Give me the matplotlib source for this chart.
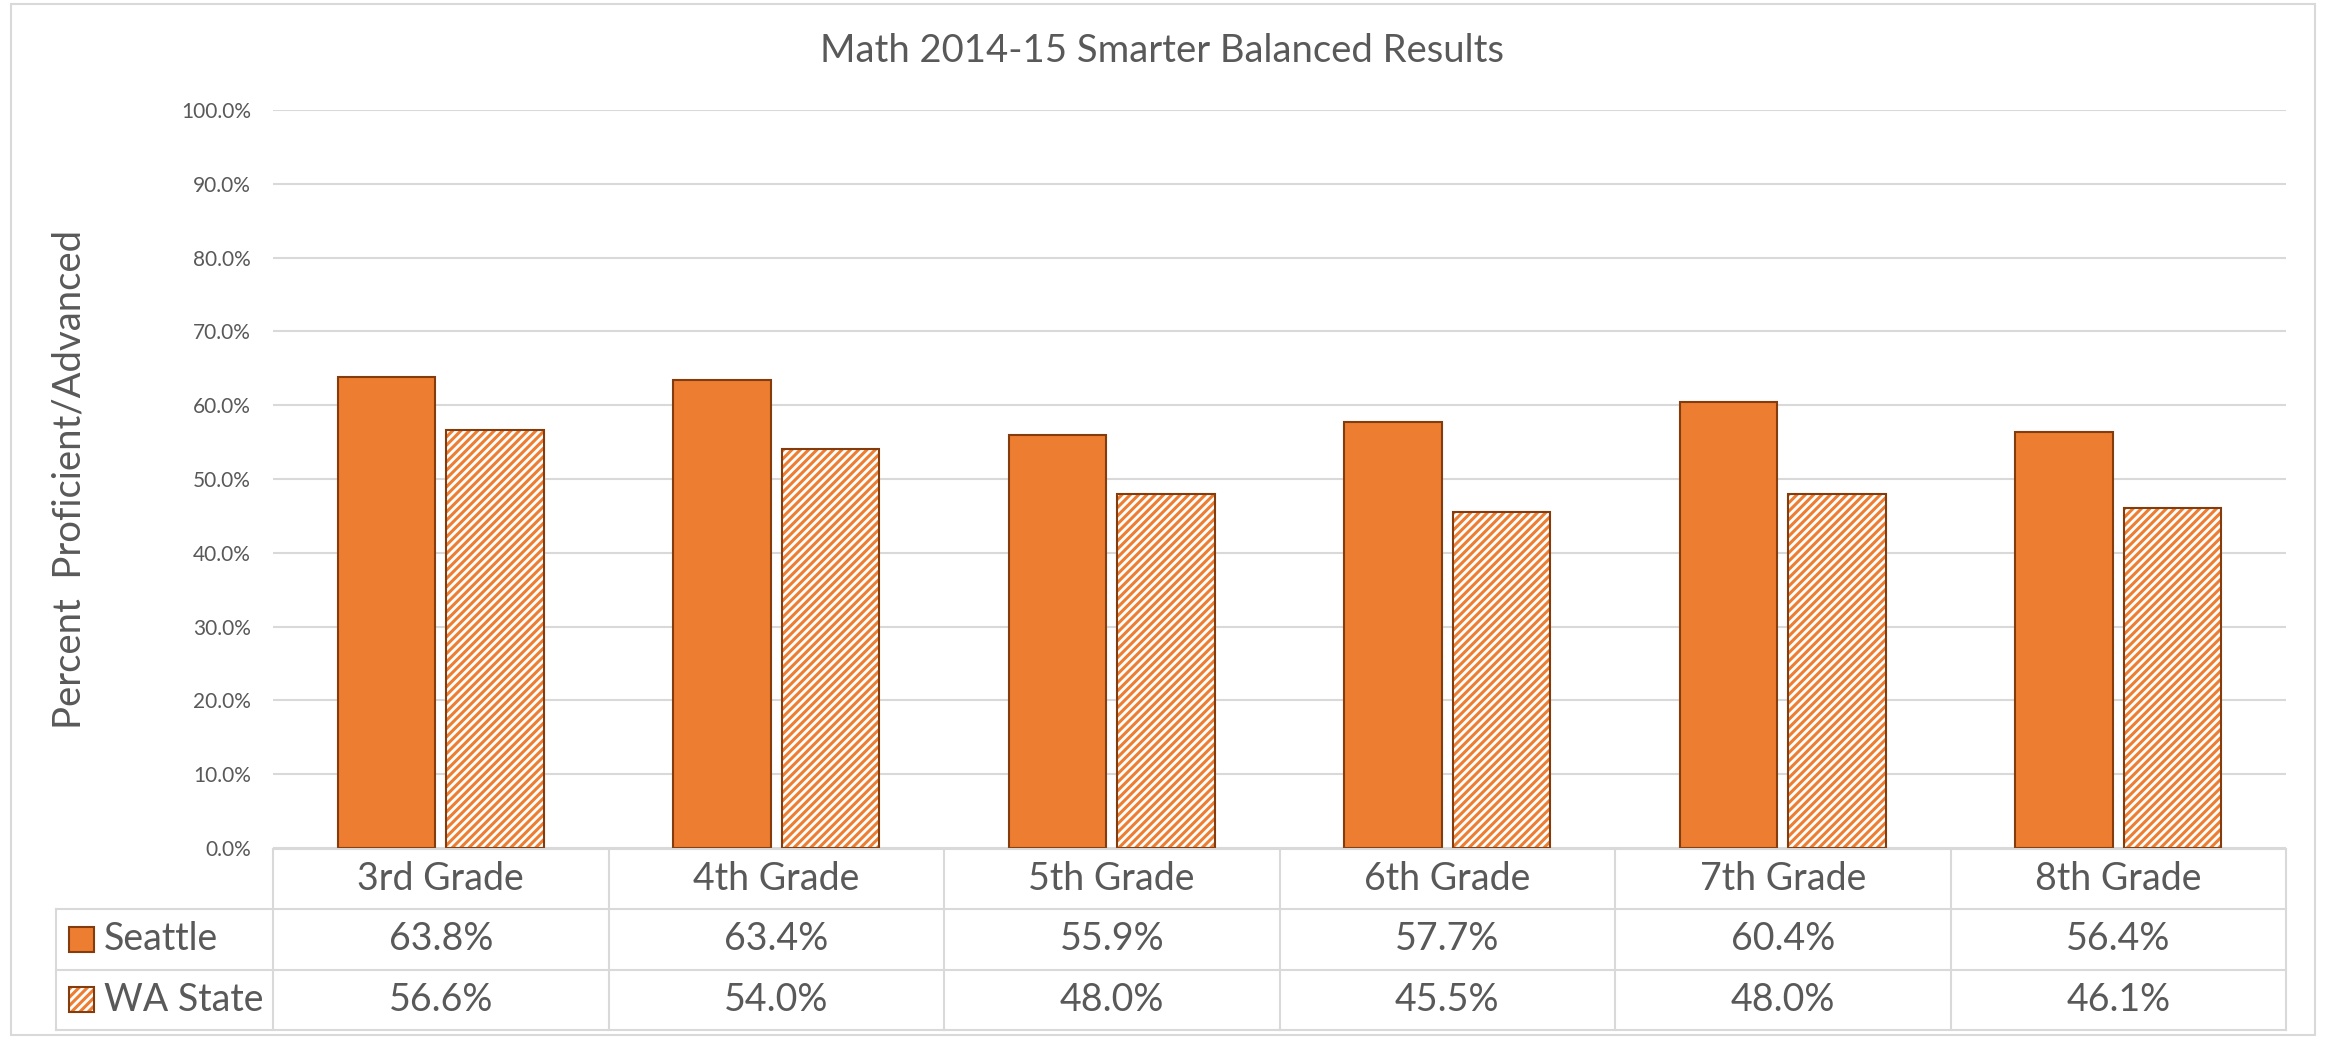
import matplotlib
matplotlib.use('Agg')
import matplotlib.pyplot as plt
import matplotlib.patches as patches
import numpy as np

grades = ['3rd Grade', '4th Grade', '5th Grade', '6th Grade', '7th Grade', '8th Grade']
seattle = [63.8, 63.4, 55.9, 57.7, 60.4, 56.4]
wa_state = [56.6, 54.0, 48.0, 45.5, 48.0, 46.1]
series_names = ['Seattle', 'WA State']
yticks = np.arange(0, 101, 10)

orange = '#ED7D31'
brown = '#843C0C'
grey_txt = '#595959'
grid_c = '#D9D9D9'

plt.rcParams['font.family'] = ['Lato', 'DejaVu Sans']
plt.rcParams['hatch.linewidth'] = 2.2

W, H = 2325, 1038
fig = plt.figure(figsize=(W / 100, H / 100), dpi=100)


def fx(px):
    return px / W


def fy(py):
    return 1 - py / H


# plot area
ax = fig.add_axes([fx(273), fy(848), fx(2286) - fx(273), fy(110) - fy(848)])
x = np.arange(len(grades))
bw = 0.29
off = 0.162
ax.bar(x - off, seattle, bw, color=orange, edgecolor=brown, linewidth=1.5, zorder=3)
ax.bar(x + off, wa_state, bw, color='white', edgecolor=orange, hatch='////', linewidth=0, zorder=3)
ax.bar(x + off, wa_state, bw, fill=False, edgecolor=brown, linewidth=1.5, zorder=4)

ax.set_xlim(-0.5, len(grades) - 0.5)
ax.set_ylim(0, 100)
ax.set_xticks([])
ax.set_yticks(yticks)
ax.set_yticklabels(['%.1f%%' % t for t in yticks])
ax.tick_params(axis='y', length=0, pad=16, labelsize=15, labelcolor=grey_txt)
for s in ax.spines.values():
    s.set_visible(False)
ax.yaxis.grid(True, color=grid_c, linewidth=1.5)
ax.set_axisbelow(True)

# data table under the plot
tax = fig.add_axes([fx(273), fy(1030), fx(2286) - fx(273), fy(849) - fy(1030)])
n = len(grades)
tax.set_xlim(-0.5, n - 0.5)
tax.set_ylim(3, 0)
tax.axis('off')
colw = (2286 - 273) / n
rowh = (1030 - 849) / 3.0


def tx(px):
    return -0.5 + (px - 273) / colw


def ty(py):
    return (py - 849) / rowh


left = tx(56)
lk = dict(color=grid_c, linewidth=1.5, clip_on=False)
tax.plot([-0.5, n - 0.5], [0, 0], **lk)
for r in (1, 2, 3):
    tax.plot([left, n - 0.5], [r, r], **lk)
tax.plot([left, left], [1, 3], **lk)
for i in range(n + 1):
    tax.plot([i - 0.5, i - 0.5], [0, 3], **lk)

for i, g in enumerate(grades):
    tax.text(i, 0.5, g, ha='center', va='center', fontsize=27, color=grey_txt)
for r, vals in enumerate([seattle, wa_state]):
    for i, v in enumerate(vals):
        tax.text(i, r + 1.5, '%.1f%%' % v, ha='center', va='center', fontsize=27, color=grey_txt)

# legend keys in the table
sq = 25
for r, name in enumerate(series_names):
    cy = 849 + rowh * (r + 1.5)
    x0, y0 = tx(69), ty(cy + sq / 2)
    w, h = sq / colw, -sq / rowh
    if r == 0:
        tax.add_patch(patches.Rectangle((x0, y0), w, h, facecolor=orange, edgecolor=brown,
                                        linewidth=1.5, clip_on=False))
    else:
        tax.add_patch(patches.Rectangle((x0, y0), w, h, facecolor='white', edgecolor=orange,
                                        hatch='////', linewidth=0, clip_on=False))
        tax.add_patch(patches.Rectangle((x0, y0), w, h, fill=False, edgecolor=brown,
                                        linewidth=1.5, clip_on=False))
    tax.text(tx(104), r + 1.5, name, ha='left', va='center', fontsize=27, color=grey_txt)

fig.text(0.5, fy(51), 'Math 2014-15 Smarter Balanced Results', ha='center', va='center',
         fontsize=27.5, color=grey_txt)
fig.text(fx(70), fy(479), 'Percent  Proficient/Advanced', rotation=90, ha='center',
         va='center', fontsize=27.5, color=grey_txt)

fig.add_artist(patches.Rectangle((fx(11), fy(1035)), fx(2315) - fx(11), fy(4) - fy(1035),
                                 transform=fig.transFigure, fill=False, edgecolor=grid_c,
                                 linewidth=1.5))

fig.savefig('out.png', dpi=100)
